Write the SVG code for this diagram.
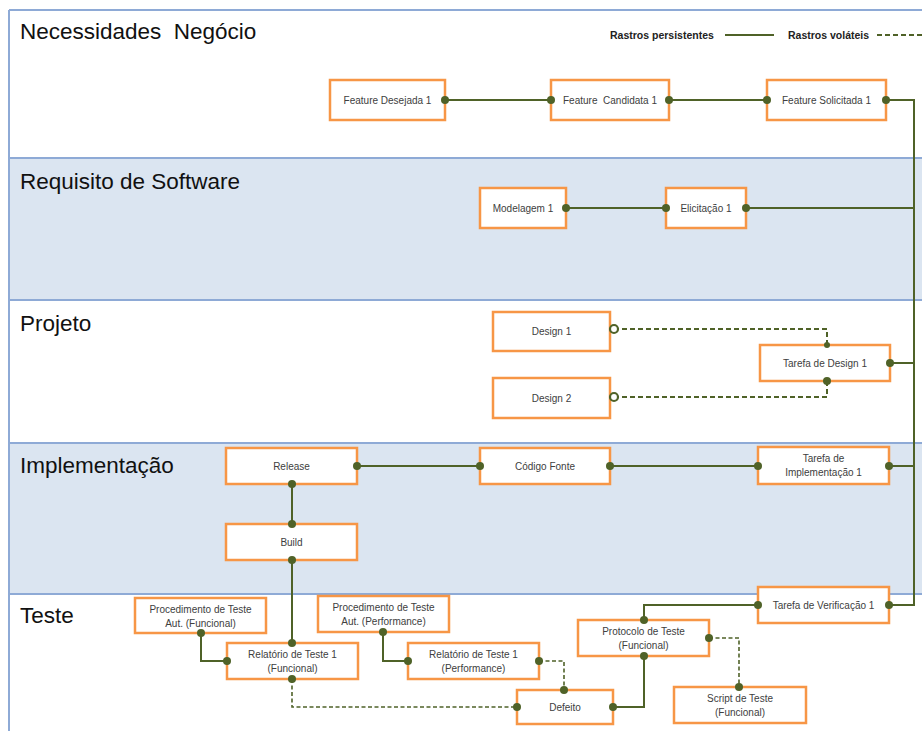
<svg xmlns="http://www.w3.org/2000/svg" width="922" height="731" viewBox="0 0 922 731">
  <style>
    .band-w { fill: #ffffff; }
    .band-b { fill: #dbe5f1; }
    .sep { stroke: #8eaad6; stroke-width: 2; fill: none; }
    .title { font-family: "Liberation Sans", Arial, sans-serif; font-size: 22.5px; fill: #111111; white-space: pre; }
    .legend { font-family: "Liberation Sans", Arial, sans-serif; font-size: 10.5px; font-weight: bold; fill: #222222; }
    .box { fill: #ffffff; stroke: #f79646; stroke-width: 2.5; }
    .lbl { font-family: "Liberation Sans", Arial, sans-serif; font-size: 10px; fill: #404040; text-anchor: middle; white-space: pre; }
    .solid { stroke: #4f6228; stroke-width: 2; fill: none; }
    .dash { stroke: #4f6228; stroke-width: 1.6; fill: none; stroke-dasharray: 4 2.5; }
    .dash2 { stroke: #4f6228; stroke-width: 2; fill: none; stroke-dasharray: 5 3; }
    .dot { fill: #4f6228; }
    .open { fill: #ffffff; stroke: #4f6228; stroke-width: 2.2; }
  </style>

  <!-- swimlane bands -->
  <g id="lanes">
    <rect class="band-w" x="0" y="0" width="922" height="731"/>
    <rect class="band-w" x="9" y="10" width="913" height="148"/>
    <rect class="band-b" x="9" y="158" width="913" height="142"/>
    <rect class="band-w" x="9" y="300" width="913" height="143"/>
    <rect class="band-b" x="9" y="443" width="913" height="151"/>
    <rect class="band-w" x="9" y="594" width="913" height="137"/>
    <path class="sep" d="M9,10 H922 M9,158 H922 M9,300 H922 M9,443 H922 M9,594 H922 M9,10 V731"/>
    <text class="title" x="20" y="39" xml:space="preserve">Necessidades  Negócio</text>
    <text class="title" x="20" y="189">Requisito de Software</text>
    <text class="title" x="20" y="331">Projeto</text>
    <text class="title" x="20" y="473">Implementação</text>
    <text class="title" x="20" y="623">Teste</text>
  </g>

  <!-- legend -->
  <g id="legend">
    <text class="legend" x="610" y="39">Rastros persistentes</text>
    <line class="solid" x1="725" y1="35" x2="774" y2="35"/>
    <text class="legend" x="788" y="39">Rastros voláteis</text>
    <line class="dash2" x1="877" y1="35" x2="922" y2="35"/>
  </g>

  <!-- connectors -->
  <g id="connectors">
    <path class="solid" d="M445,100 H551"/>
    <path class="solid" d="M669,100 H767"/>
    <path class="solid" d="M886,100 H914 V605 H889"/>
    <path class="solid" d="M566,208 H666"/>
    <path class="solid" d="M746,208 H914"/>
    <path class="solid" d="M890,363 H914"/>
    <path class="solid" d="M357,466 H480"/>
    <path class="solid" d="M610,466 H758"/>
    <path class="solid" d="M889,466 H914"/>
    <path class="solid" d="M292,484 V524"/>
    <path class="solid" d="M292,560 V643"/>
    <path class="solid" d="M201,633 V661 H227"/>
    <path class="solid" d="M383,632 V661 H408"/>
    <path class="solid" d="M613,707 H644 V656"/>
    <path class="solid" d="M758,605 H644 V620"/>
    <path class="dash2" d="M614,329 H827 V345"/>
    <path class="dash2" d="M614,397 H827 V381"/>
    <path class="dash" d="M292,679 V707 H517"/>
    <path class="dash" d="M539,661 H564 V690"/>
    <path class="dash" d="M709,638 H739 V687"/>
  </g>

  <!-- nodes -->
  <g id="feature-desejada-1">
    <rect class="box" x="330" y="80" width="115" height="40"/>
    <text class="lbl" x="387.5" y="104">Feature Desejada 1</text>
  </g>
  <g id="feature-candidata-1">
    <rect class="box" x="551" y="80" width="118" height="40"/>
    <text class="lbl" x="610" y="104" xml:space="preserve">Feature  Candidata 1</text>
  </g>
  <g id="feature-solicitada-1">
    <rect class="box" x="767" y="80" width="119" height="40"/>
    <text class="lbl" x="826.5" y="104">Feature Solicitada 1</text>
  </g>
  <g id="modelagem-1">
    <rect class="box" x="480" y="188" width="86" height="40"/>
    <text class="lbl" x="523" y="212">Modelagem 1</text>
  </g>
  <g id="elicitacao-1">
    <rect class="box" x="666" y="188" width="80" height="40"/>
    <text class="lbl" x="706" y="212">Elicitação 1</text>
  </g>
  <g id="design-1">
    <rect class="box" x="493" y="312" width="117" height="39"/>
    <text class="lbl" x="551.5" y="335">Design 1</text>
  </g>
  <g id="design-2">
    <rect class="box" x="493" y="378" width="117" height="40"/>
    <text class="lbl" x="551.5" y="402">Design 2</text>
  </g>
  <g id="tarefa-design-1">
    <rect class="box" x="760" y="345" width="130" height="36"/>
    <text class="lbl" x="825" y="367">Tarefa de Design 1</text>
  </g>
  <g id="release">
    <rect class="box" x="226" y="448" width="131" height="36"/>
    <text class="lbl" x="291.5" y="470">Release</text>
  </g>
  <g id="codigo-fonte">
    <rect class="box" x="480" y="448" width="130" height="36"/>
    <text class="lbl" x="545" y="470">Código Fonte</text>
  </g>
  <g id="tarefa-implementacao-1">
    <rect class="box" x="758" y="447" width="131" height="37"/>
    <text class="lbl" x="823.5" y="462">Tarefa de</text>
    <text class="lbl" x="823.5" y="476">Implementação 1</text>
  </g>
  <g id="build">
    <rect class="box" x="226" y="524" width="131" height="36"/>
    <text class="lbl" x="291.5" y="546">Build</text>
  </g>
  <g id="procedimento-funcional">
    <rect class="box" x="135" y="598" width="131" height="35"/>
    <text class="lbl" x="200.5" y="613">Procedimento de Teste</text>
    <text class="lbl" x="200.5" y="627">Aut. (Funcional)</text>
  </g>
  <g id="relatorio-funcional">
    <rect class="box" x="227" y="643" width="131" height="36"/>
    <text class="lbl" x="292.5" y="658">Relatório de Teste 1</text>
    <text class="lbl" x="292.5" y="672">(Funcional)</text>
  </g>
  <g id="procedimento-performance">
    <rect class="box" x="318" y="596" width="131" height="36"/>
    <text class="lbl" x="383.5" y="611">Procedimento de Teste</text>
    <text class="lbl" x="383.5" y="625">Aut. (Performance)</text>
  </g>
  <g id="relatorio-performance">
    <rect class="box" x="408" y="643" width="131" height="36"/>
    <text class="lbl" x="473.5" y="658">Relatório de Teste 1</text>
    <text class="lbl" x="473.5" y="672">(Performance)</text>
  </g>
  <g id="defeito">
    <rect class="box" x="517" y="690" width="96" height="34"/>
    <text class="lbl" x="565" y="711">Defeito</text>
  </g>
  <g id="protocolo-teste">
    <rect class="box" x="578" y="620" width="131" height="36"/>
    <text class="lbl" x="643.5" y="635">Protocolo de Teste</text>
    <text class="lbl" x="643.5" y="649">(Funcional)</text>
  </g>
  <g id="tarefa-verificacao-1">
    <rect class="box" x="758" y="587" width="131" height="36"/>
    <text class="lbl" x="823.5" y="609">Tarefa de Verificação 1</text>
  </g>
  <g id="script-teste">
    <rect class="box" x="674" y="687" width="132" height="36"/>
    <text class="lbl" x="740" y="702">Script de Teste</text>
    <text class="lbl" x="740" y="716">(Funcional)</text>
  </g>

  <!-- connection points -->
  <g id="ports">
    <circle class="dot" cx="445" cy="100" r="4"/>
    <circle class="dot" cx="551" cy="100" r="4"/>
    <circle class="dot" cx="669" cy="100" r="4"/>
    <circle class="dot" cx="767" cy="100" r="4"/>
    <circle class="dot" cx="886" cy="100" r="4"/>
    <circle class="dot" cx="566" cy="208" r="4"/>
    <circle class="dot" cx="666" cy="208" r="4"/>
    <circle class="dot" cx="746" cy="208" r="4"/>
    <circle class="open" cx="614" cy="329" r="4"/>
    <circle class="open" cx="614" cy="397" r="4"/>
    <circle class="dot" cx="827" cy="345" r="3"/>
    <circle class="dot" cx="827" cy="381" r="4"/>
    <circle class="dot" cx="890" cy="363" r="4"/>
    <circle class="dot" cx="357" cy="466" r="4"/>
    <circle class="dot" cx="292" cy="484" r="4"/>
    <circle class="dot" cx="480" cy="466" r="4"/>
    <circle class="dot" cx="610" cy="466" r="4"/>
    <circle class="dot" cx="758" cy="466" r="4"/>
    <circle class="dot" cx="889" cy="466" r="4"/>
    <circle class="dot" cx="292" cy="524" r="4"/>
    <circle class="dot" cx="292" cy="560" r="4"/>
    <circle class="dot" cx="201" cy="633" r="4"/>
    <circle class="dot" cx="227" cy="661" r="4"/>
    <circle class="dot" cx="292" cy="643" r="4"/>
    <circle class="dot" cx="292" cy="679" r="4"/>
    <circle class="dot" cx="383" cy="632" r="4"/>
    <circle class="dot" cx="408" cy="661" r="4"/>
    <circle class="dot" cx="539" cy="661" r="4"/>
    <circle class="dot" cx="517" cy="707" r="4"/>
    <circle class="dot" cx="564" cy="690" r="4"/>
    <circle class="dot" cx="613" cy="707" r="4"/>
    <circle class="dot" cx="644" cy="620" r="4"/>
    <circle class="dot" cx="644" cy="656" r="4"/>
    <circle class="dot" cx="709" cy="638" r="4"/>
    <circle class="dot" cx="758" cy="605" r="4"/>
    <circle class="dot" cx="889" cy="605" r="4"/>
    <circle class="dot" cx="739" cy="687" r="4"/>
  </g>
</svg>
